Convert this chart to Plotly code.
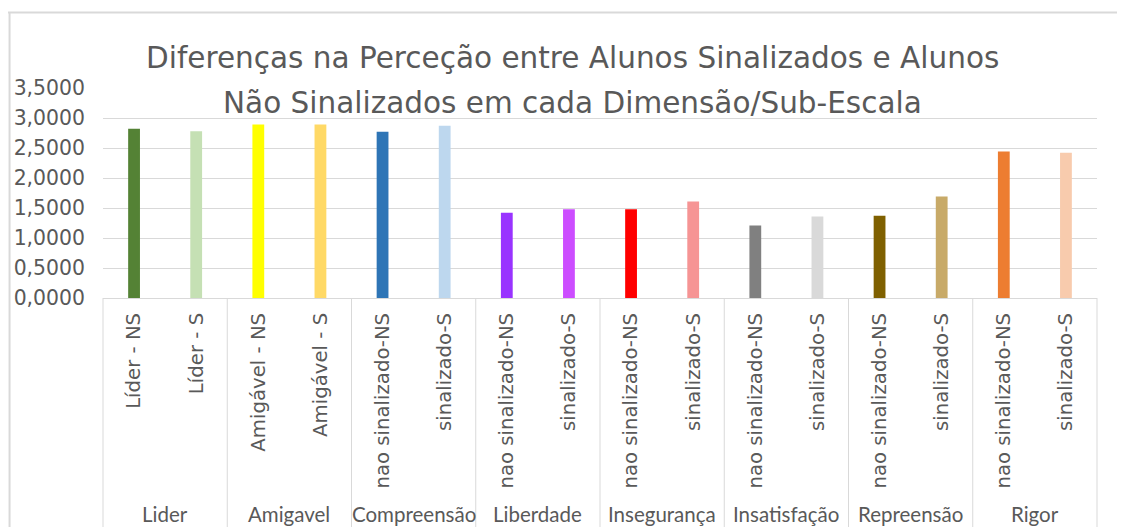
import plotly.graph_objects as go

groups = ["Lider", "Amigavel", "Compreensão", "Liberdade",
          "Insegurança", "Insatisfação", "Repreensão", "Rigor"]
labels = ["Líder - NS", "Líder - S", "Amigável - NS", "Amigável - S",
          "nao sinalizado-NS", "sinalizado-S", "nao sinalizado-NS", "sinalizado-S",
          "nao sinalizado-NS", "sinalizado-S", "nao sinalizado-NS", "sinalizado-S",
          "nao sinalizado-NS", "sinalizado-S", "nao sinalizado-NS", "sinalizado-S"]
values = [2.82, 2.78, 2.89, 2.89, 2.77, 2.87, 1.42, 1.48,
          1.48, 1.61, 1.21, 1.36, 1.37, 1.69, 2.44, 2.42]
colors = ["#548235", "#C5E0B4", "#FFFF00", "#FFD966", "#2E75B6", "#BDD7EE",
          "#9933FF", "#CC4DFF", "#FF0000", "#F69494", "#808080", "#D9D9D9",
          "#7F6000", "#C8AA68", "#ED7D31", "#F8CBAD"]
y_ticks = [0, 0.5, 1.0, 1.5, 2.0, 2.5, 3.0, 3.5]
title_lines = ["Diferenças na Perceção entre Alunos Sinalizados e Alunos",
               "Não Sinalizados em cada Dimensão/Sub-Escala"]

W, H = 1125, 527
# plot area in figure pixels
PL, PR, PT, PB = 95, 1089.5, 80, 290
PW, PH = PR - PL, PB - PT
FONT = "DejaVu Sans"
GREY = "#595959"
LINE = "#D9D9D9"


def px(xp):
    return (xp - PL) / PW


def py(yp):
    return (PB - yp) / PH


xs = list(range(len(values)))
per_group = len(values) // len(groups)

fig = go.Figure(go.Bar(
    x=xs, y=values,
    marker=dict(color=colors, line=dict(width=0)),
    width=0.19,
))

fig.update_layout(
    width=W, height=H,
    margin=dict(l=PL, r=W - PR, t=PT, b=H - PB, autoexpand=False),
    paper_bgcolor="white", plot_bgcolor="white",
    separators=",.",
    showlegend=False,
    font=dict(family=FONT, color=GREY),
)
fig.update_yaxes(range=[0, 3.5], tickvals=y_ticks, tickformat=".4f",
                 showgrid=True, gridcolor=LINE, gridwidth=1, zeroline=False,
                 showline=False, ticks="", ticklabelstandoff=17,
                 tickfont=dict(family=FONT, size=20.4, color=GREY), automargin=False)
fig.update_xaxes(range=[-0.5, len(values) - 0.5], tickvals=xs, ticktext=labels,
                 showline=True, linecolor=LINE, linewidth=1, showgrid=False,
                 tickangle=-90, ticks="", automargin=False, ticklabelstandoff=6,
                 tickfont=dict(family=FONT, size=19.7, color=GREY))

# category group dividers and group labels
for g, name in enumerate(groups):
    x_left = g * per_group - 0.5
    fig.add_shape(type="line", xref="paper", yref="paper",
                  x0=(x_left + 0.5) / len(values), x1=(x_left + 0.5) / len(values),
                  y0=0, y1=py(H + 10), line=dict(color=LINE, width=1))
    fig.add_annotation(x=g * per_group + (per_group - 1) / 2, xref="x",
                       y=py(506), yref="paper", yanchor="middle",
                       text=name, showarrow=False,
                       font=dict(family="Lato", size=20.5, color=GREY))
fig.add_shape(type="line", xref="paper", yref="paper", x0=1, x1=1,
              y0=0, y1=py(H + 10), line=dict(color=LINE, width=1))

# title (two lines, Excel-like line spacing)
fig.add_annotation(x=px(565), xref="paper", y=py(50), yref="paper", yanchor="middle",
                   text=title_lines[0], showarrow=False,
                   font=dict(family=FONT, size=29.5, color=GREY))
fig.add_annotation(x=px(565), xref="paper", y=py(95), yref="paper", yanchor="middle",
                   text=title_lines[1], showarrow=False,
                   font=dict(family=FONT, size=29.5, color=GREY))

# outer chart frame (Excel chart border)
fig.add_shape(type="line", xref="paper", yref="paper",
              x0=px(1.5), x1=px(1.5), y0=py(H + 10), y1=py(4.5),
              line=dict(color=LINE, width=2))
fig.add_shape(type="line", xref="paper", yref="paper",
              x0=px(-4), x1=px(W + 10), y0=py(4.5), y1=py(4.5),
              line=dict(color=LINE, width=2))

fig.write_html("out.html")
